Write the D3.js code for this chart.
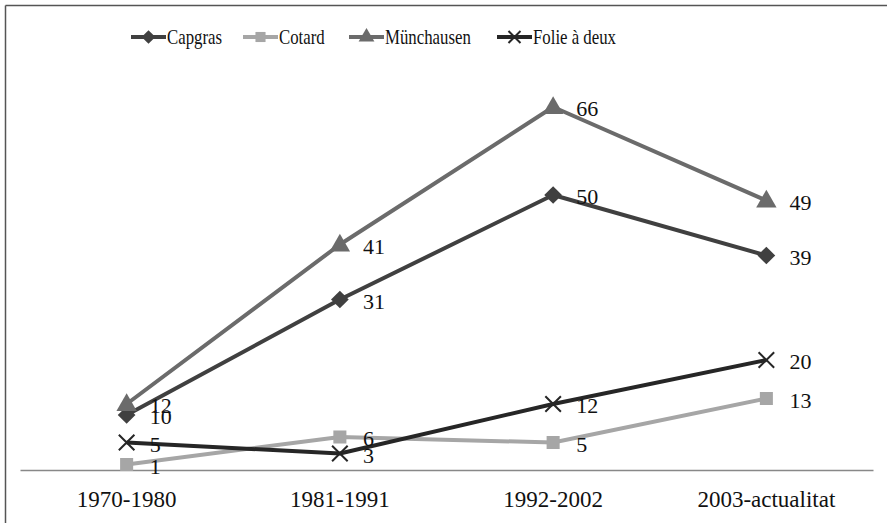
<!DOCTYPE html>
<html><head><meta charset="utf-8">
<script src="https://cdn.jsdelivr.net/npm/d3@7"></script>
<style>html,body{margin:0;padding:0;background:#fff;}svg{display:block;}</style>
</head><body>
<svg id="chart" width="887" height="523"></svg>
<script>
const categories = ["1970-1980", "1981-1991", "1992-2002", "2003-actualitat"];
const seriesNames = ["Capgras", "Cotard", "Münchausen", "Folie à deux"];
const capgras = [10, 31, 50, 39];
const cotard = [1, 6, 5, 13];
const munchausen = [12, 41, 66, 49];
const folie = [5, 3, 12, 20];
const colors = ["#404040", "#a6a6a6", "#6b6b6b", "#262626"];
const markers = ["diamond", "square", "triangle", "x"];
const seriesValues = [capgras, cotard, munchausen, folie];

const svg = d3.select("#chart");
const font = "'Liberation Serif', serif";

// frame (top and left edges)
svg.append("line").attr("x1", 5.5).attr("x2", 887).attr("y1", 5.5).attr("y2", 5.5).attr("stroke", "#555").attr("stroke-width", 1.5);
svg.append("line").attr("x1", 5.5).attr("x2", 5.5).attr("y1", 5.5).attr("y2", 523).attr("stroke", "#555").attr("stroke-width", 1.5);

const x = d3.scaleBand().domain(categories).range([20, 873]);
const y = d3.scaleLinear().domain([0, 70]).range([470, 85]);
const cx = c => x(c) + x.bandwidth() / 2;

// axis
const axis = d3.axisBottom(x).tickSize(0).tickPadding(21);
const gAxis = svg.append("g").attr("transform", `translate(0,${y(0)})`).call(axis);
gAxis.select(".domain").attr("stroke", "#888").attr("stroke-width", 1.5);
gAxis.selectAll("text").attr("font-family", font).attr("font-size", 23).attr("fill", "#111");

const symbolFor = (m, s) => {
  if (m === "diamond") return d3.symbol().type(d3.symbolDiamond2).size(s)();
  if (m === "square") return d3.symbol().type(d3.symbolSquare).size(s)();
  if (m === "triangle") return d3.symbol().type(d3.symbolTriangle).size(s)();
  return d3.symbol().type(d3.symbolTimes).size(s)();
};
const sizes = {diamond: 200, square: 170, triangle: 180, x: 160};

const line = d3.line().x((d, i) => cx(categories[i])).y(d => y(d));

seriesValues.forEach((vals, si) => {
  const g = svg.append("g");
  g.append("path").datum(vals).attr("d", line).attr("fill", "none")
    .attr("stroke", colors[si]).attr("stroke-width", 4).attr("stroke-linejoin", "round");
  vals.forEach((v, i) => {
    const m = markers[si];
    const p = g.append("path").attr("d", symbolFor(m, sizes[m]))
      .attr("transform", `translate(${cx(categories[i])},${y(v) + (m === "triangle" ? 1 : 0)})`);
    if (m === "x") p.attr("fill", "none").attr("stroke", colors[si]).attr("stroke-width", 2);
    else p.attr("fill", colors[si]);
  });
});

// data labels
seriesValues.forEach((vals, si) => {
  vals.forEach((v, i) => {
    svg.append("text").attr("x", cx(categories[i]) + 23).attr("y", y(v) + 9)
      .attr("font-family", font).attr("font-size", 22).attr("fill", "#111").text(v);
  });
});

// legend
const legendX = [131, 243, 349, 497];
const legendY = 37;
seriesNames.forEach((name, si) => {
  const g = svg.append("g").attr("transform", `translate(${legendX[si]},${legendY})`);
  g.append("line").attr("x1", 0).attr("x2", 35).attr("y1", 0).attr("y2", 0)
    .attr("stroke", colors[si]).attr("stroke-width", 4);
  const m = markers[si];
  const p = g.append("path").attr("d", symbolFor(m, sizes[m] * 0.6)).attr("transform", "translate(17.5,0)");
  if (m === "x") p.attr("fill", "none").attr("stroke", colors[si]).attr("stroke-width", 2);
  else p.attr("fill", colors[si]);
  g.append("text").attr("transform", "translate(36,7) scale(0.8,1)")
    .attr("font-family", font).attr("font-size", 21)
    .attr("fill", "#111").text(name);
});
</script>
</body></html>
